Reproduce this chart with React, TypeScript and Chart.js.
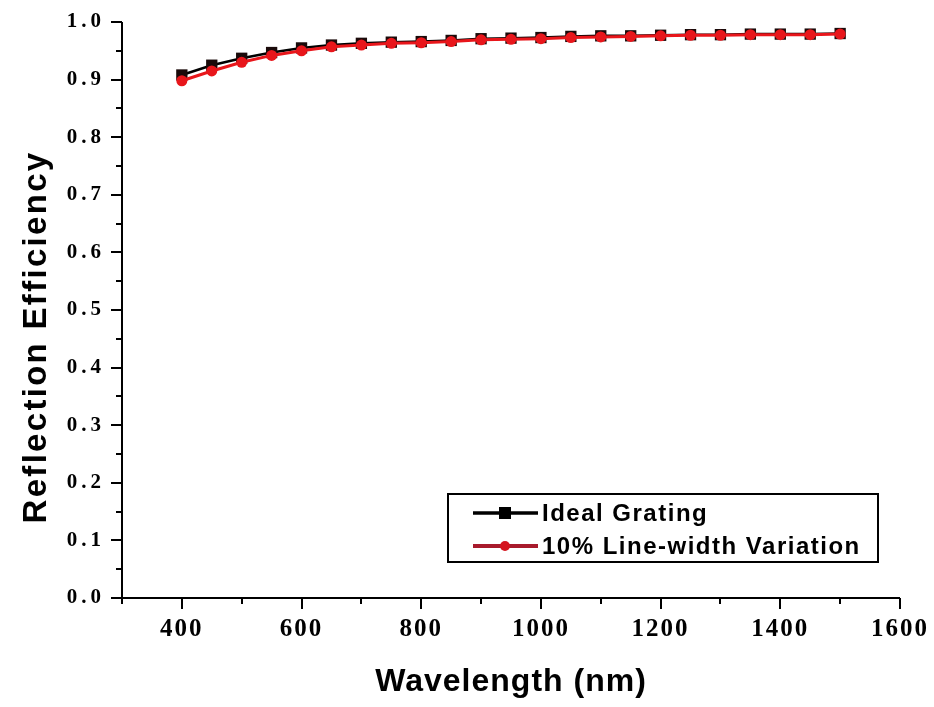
import React, { useEffect, useRef } from "react";
import { Chart, registerables } from "chart.js";

Chart.register(...registerables);

const wavelengths = [400, 450, 500, 550, 600, 650, 700, 750, 800, 850, 900, 950, 1000, 1050, 1100, 1150, 1200, 1250, 1300, 1350, 1400, 1450, 1500];
const idealGrating = [0.908, 0.925, 0.937, 0.947, 0.955, 0.960, 0.963, 0.965, 0.966, 0.968, 0.971, 0.972, 0.973, 0.975, 0.976, 0.976, 0.977, 0.978, 0.978, 0.979, 0.979, 0.979, 0.980];
const lineWidthVariation = [0.898, 0.915, 0.930, 0.942, 0.950, 0.957, 0.960, 0.963, 0.964, 0.966, 0.969, 0.970, 0.971, 0.973, 0.974, 0.975, 0.976, 0.977, 0.977, 0.978, 0.978, 0.978, 0.979];
const seriesNames = ["Ideal Grating", "10% Line-width Variation"];
const xTitle = "Wavelength (nm)";
const yTitle = "Reflection Efficiency";

const RED = "#e8161b";
const SANS = "'Liberation Sans', Arial, sans-serif";
const SERIF = "'Liberation Serif', 'Times New Roman', serif";

// letter spacing / shifts applied when Chart.js draws titles and labels
const textStyle: any = {
  x: { title: "1px", labels: "2px", titleShift: 0 },
  y: { title: "2.3px", labels: "4px", titleShift: 27 },
};

function patch(scale: any) {
  if (scale.__patched) return;
  scale.__patched = true;
  const st = textStyle[scale.id];
  const origTitle = scale.drawTitle;
  scale.drawTitle = function (...args: any[]) {
    const ctx = this.ctx;
    ctx.save();
    ctx.letterSpacing = st.title;
    if (st.titleShift) ctx.translate(0, st.titleShift);
    origTitle.apply(this, args);
    ctx.restore();
  };
  const origLabels = scale.drawLabels;
  scale.drawLabels = function (...args: any[]) {
    const ctx = this.ctx;
    ctx.save();
    ctx.letterSpacing = st.labels;
    origLabels.apply(this, args);
    ctx.restore();
  };
}

const spacingPlugin = {
  id: "textSpacing",
  beforeDraw(chart: any) {
    patch(chart.scales.x);
    patch(chart.scales.y);
  },
};

const axesPlugin = {
  id: "axesTicks",
  afterDraw(chart: any) {
    const ctx = chart.ctx;
    const xs = chart.scales.x;
    const ys = chart.scales.y;
    const { left, bottom, top, right } = chart.chartArea;
    ctx.save();
    ctx.strokeStyle = "#000";
    ctx.lineWidth = 2;
    ctx.beginPath();
    ctx.moveTo(left, top);
    ctx.lineTo(left, bottom);
    ctx.lineTo(right, bottom);
    ctx.stroke();
    for (let v = xs.min; v <= xs.max + 1e-6; v += 100) {
      const px = Math.round(xs.getPixelForValue(v));
      const major = Math.round(v) % 200 === 0;
      ctx.beginPath();
      ctx.moveTo(px, bottom);
      ctx.lineTo(px, bottom + (major ? 11 : 6));
      ctx.stroke();
    }
    for (let i = 0; i <= 20; i++) {
      const v = ys.min + i * 0.05;
      const py = Math.round(ys.getPixelForValue(v));
      const major = i % 2 === 0;
      ctx.beginPath();
      ctx.moveTo(left, py);
      ctx.lineTo(left - (major ? 11 : 6), py);
      ctx.stroke();
    }
    ctx.restore();
  },
};

const legendPlugin = {
  id: "boxLegend",
  afterDraw(chart: any) {
    const ctx = chart.ctx;
    const bx = 448, by = 494, bw = 430, bh = 68;
    ctx.save();
    ctx.strokeStyle = "#000";
    ctx.lineWidth = 2;
    ctx.strokeRect(bx, by, bw, bh);
    const rows = [
      { y: 513, color: "#000", line: "#000", lw: 3.5, marker: "rect" },
      { y: 546, color: "#d4141e", line: "#a81a2c", lw: 4, marker: "circle" },
    ];
    rows.forEach((r, i) => {
      ctx.strokeStyle = r.line;
      ctx.lineWidth = r.lw;
      ctx.beginPath();
      ctx.moveTo(473, r.y);
      ctx.lineTo(538, r.y);
      ctx.stroke();
      ctx.fillStyle = r.color;
      if (r.marker === "rect") {
        ctx.fillRect(499, r.y - 6, 12, 12);
      } else {
        ctx.beginPath();
        ctx.arc(505, r.y, 5, 0, Math.PI * 2);
        ctx.fill();
      }
      ctx.fillStyle = "#000";
      ctx.font = "bold 24px " + SANS;
      ctx.letterSpacing = "1.5px";
      ctx.textBaseline = "middle";
      ctx.textAlign = "left";
      ctx.fillText(seriesNames[i], 542, r.y + 1);
      ctx.letterSpacing = "0px";
    });
    ctx.restore();
  },
};

export default function App() {
  const ref = useRef<HTMLCanvasElement>(null);
  useEffect(() => {
    if (!ref.current) return;
    const chart = new Chart(ref.current, {
      type: "line",
      data: {
        datasets: [
          {
            label: seriesNames[0],
            data: wavelengths.map((x, i) => ({ x, y: idealGrating[i] })),
            borderColor: "#000",
            backgroundColor: "#111",
            borderWidth: 2.5,
            pointStyle: "rect",
            pointRadius: 8,
            pointBorderWidth: 0,
            pointBackgroundColor: "#1a0a0a",
            order: 1,
          },
          {
            label: seriesNames[1],
            data: wavelengths.map((x, i) => ({ x, y: lineWidthVariation[i] })),
            borderColor: RED,
            backgroundColor: RED,
            borderWidth: 3,
            pointStyle: "circle",
            pointRadius: 5.5,
            pointBorderWidth: 0,
            pointBackgroundColor: RED,
            order: 0,
          },
        ],
      },
      options: {
        responsive: false,
        animation: false,
        devicePixelRatio: 1,
        layout: { padding: { top: 22, right: 34, left: 0, bottom: 0 } },
        plugins: { legend: { display: false }, tooltip: { enabled: false } },
        scales: {
          x: {
            type: "linear",
            min: 300,
            max: 1600,
            grid: { display: false, drawTicks: false },
            border: { display: false },
            ticks: {
              stepSize: 100,
              autoSkip: false,
              maxRotation: 0,
              padding: 17,
              color: "#000",
              font: { family: SERIF, size: 25, weight: "bold" },
              callback: (v: any) => (Math.round(v) % 200 === 0 ? String(v) : ""),
            },
            title: {
              display: true,
              text: xTitle,
              color: "#000",
              padding: { top: 0, bottom: 6 },
              font: { family: SANS, size: 32, weight: "bold" },
            },
            afterFit: (s: any) => {
              s.height = 109;
              s.paddingLeft = 0;
              s.paddingRight = 0;
            },
          },
          y: {
            type: "linear",
            min: 0,
            max: 1,
            grid: { display: false, drawTicks: false },
            border: { display: false },
            ticks: {
              stepSize: 0.1,
              padding: 17,
              color: "#000",
              font: { family: SERIF, size: 21, weight: "bold" },
              callback: (v: any) => Number(v).toFixed(1),
            },
            title: {
              display: true,
              text: yTitle,
              color: "#000",
              padding: { top: 17, bottom: 0 },
              font: { family: SANS, size: 33, weight: "bold" },
            },
            afterFit: (s: any) => {
              s.width = 122;
              s.paddingTop = 0;
              s.paddingBottom = 0;
            },
          },
        },
      },
      plugins: [spacingPlugin, axesPlugin, legendPlugin],
    } as any);
    return () => chart.destroy();
  }, []);
  return (
    <div style={{ position: "absolute", left: 0, top: 0, width: 934, height: 707, background: "#fff" }}>
      <canvas ref={ref} width={934} height={707} style={{ width: 934, height: 707, display: "block" }} />
    </div>
  );
}
